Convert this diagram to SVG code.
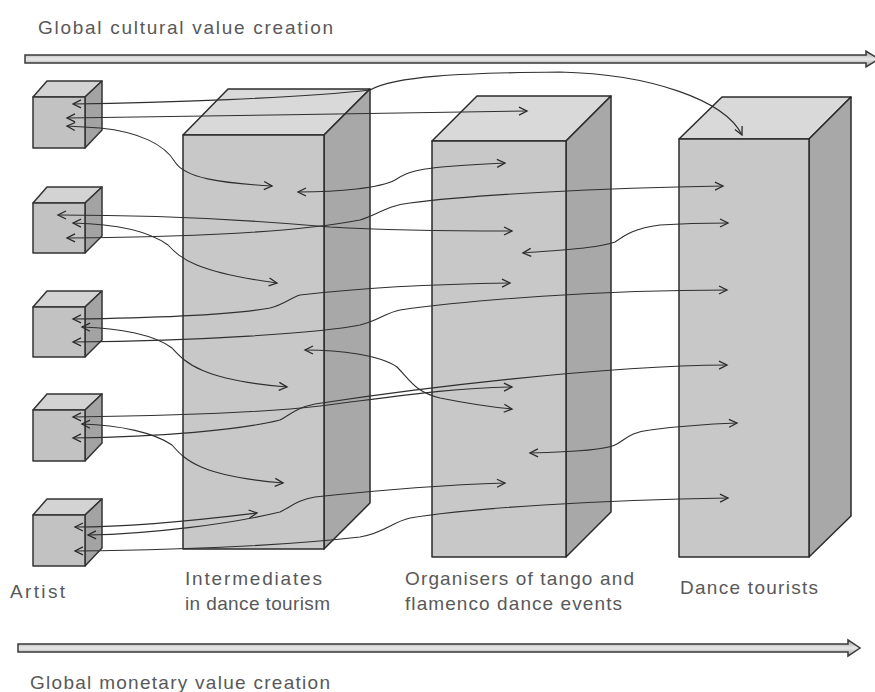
<svg xmlns="http://www.w3.org/2000/svg" width="875" height="692" viewBox="0 0 875 692">
<defs>
<marker id="ah" markerUnits="userSpaceOnUse" markerWidth="12" markerHeight="12" refX="8" refY="4" orient="auto-start-reverse" overflow="visible">
<path d="M0,0 L8,4 L0,8" fill="none" stroke="#2a2a2a" stroke-width="1.3"/>
</marker>
<linearGradient id="bar" x1="0" y1="0" x2="0" y2="1">
<stop offset="0" stop-color="#a0a0a0"/>
<stop offset="0.5" stop-color="#e8e8e8"/>
<stop offset="1" stop-color="#a0a0a0"/>
</linearGradient>
</defs>
<style>
.lbl{font-family:"Liberation Sans","DejaVu Sans",sans-serif;font-size:19px;fill:#595959;}
.ff{fill:#c8c8c8;stroke:#2b2b2b;stroke-width:1.5;stroke-linejoin:round;}
.tf{fill:#d9d9d9;stroke:#2b2b2b;stroke-width:1.5;stroke-linejoin:round;}
.sf{fill:#a8a8a8;stroke:#2b2b2b;stroke-width:1.5;stroke-linejoin:round;}
.cf{fill:#c2c2c2;stroke:#333;stroke-width:1.5;stroke-linejoin:round;}
.ct{fill:#d3d3d3;stroke:#333;stroke-width:1.5;stroke-linejoin:round;}
.cs{fill:#a3a3a3;stroke:#333;stroke-width:1.5;stroke-linejoin:round;}
.bigarrow{fill:url(#bar);stroke:#3a3a3a;stroke-width:1.5;stroke-linejoin:miter;}
.c{fill:none;stroke:#2f2f2f;stroke-width:1.1;marker-start:url(#ah);marker-end:url(#ah);}
</style>
<rect width="875" height="692" fill="#ffffff"/>

<g id="top-axis">
<path class="bigarrow" d="M25,55 L866,55 L866,51 L879,59 L866,67 L866,63 L25,63 Z"/>
<text class="lbl" x="38" y="34" textLength="295" lengthAdjust="spacing">Global cultural value creation</text>
</g>

<g id="bottom-axis">
<path class="bigarrow" d="M18,644 L848,644 L848,640 L860,648 L848,656 L848,652 L18,652 Z"/>
<text class="lbl" x="30" y="689" textLength="300" lengthAdjust="spacing">Global monetary value creation</text>
</g>

<g id="intermediates">
<polygon class="tf" points="183,135 228,89 370,89 324,135"/>
<polygon class="sf" points="324,135 370,89 370,503 324,549"/>
<rect class="ff" x="183" y="135" width="141" height="414"/>
<text class="lbl" x="185" y="585" textLength="137" lengthAdjust="spacing">Intermediates</text>
<text class="lbl" x="185" y="610" textLength="145" lengthAdjust="spacing">in dance tourism</text>
</g>

<g id="organisers">
<polygon class="tf" points="432,141 477,96 611,96 566,141"/>
<polygon class="sf" points="566,141 611,96 611,512 566,557"/>
<rect class="ff" x="432" y="141" width="134" height="416"/>
<text class="lbl" x="405" y="585" textLength="229" lengthAdjust="spacing">Organisers of tango and</text>
<text class="lbl" x="405" y="610" textLength="217" lengthAdjust="spacing">flamenco dance events</text>
</g>

<g id="dance-tourists">
<polygon class="tf" points="679,139 722,97 851,97 809,139"/>
<polygon class="sf" points="809,139 851,97 851,516 809,557"/>
<rect class="ff" x="679" y="139" width="130" height="418"/>
<text class="lbl" x="680" y="594" textLength="138" lengthAdjust="spacing">Dance tourists</text>
</g>

<g id="artist-1">
<polygon class="ct" points="33,97 47,81 102,81 85,97"/>
<polygon class="cs" points="85,97 102,81 102,130 85,148"/>
<rect class="cf" x="33" y="97" width="52" height="51"/>
</g>
<g id="artist-2">
<polygon class="ct" points="33,203 47,187 102,187 85,203"/>
<polygon class="cs" points="85,203 102,187 102,236 85,253"/>
<rect class="cf" x="33" y="203" width="52" height="50"/>
</g>
<g id="artist-3">
<polygon class="ct" points="33,307 47,291 102,291 85,307"/>
<polygon class="cs" points="85,307 102,291 102,340 85,357"/>
<rect class="cf" x="33" y="307" width="52" height="50"/>
</g>
<g id="artist-4">
<polygon class="ct" points="33,410 47,394 102,394 85,410"/>
<polygon class="cs" points="85,410 102,394 102,443 85,461"/>
<rect class="cf" x="33" y="410" width="52" height="51"/>
</g>
<g id="artist-5">
<polygon class="ct" points="33,515 47,499 102,499 85,515"/>
<polygon class="cs" points="85,515 102,499 102,548 85,566"/>
<rect class="cf" x="33" y="515" width="52" height="51"/>
<text class="lbl" x="10" y="598" textLength="55" lengthAdjust="spacing">Artist</text>
</g>

<g id="connectors">
<path class="c" d="M73,104 C160,103 300,98 370,90 C395,76 460,73 560,72 C650,74 725,100 742,135"/>
<path class="c" d="M67,118 C200,117 400,112 527,111"/>
<path class="c" d="M67,126 L100,128 C140,132 165,145 175,162 C185,178 220,183 272,186"/>
<path class="c" d="M298,192 C340,192 380,188 395,180 C410,170 420,167 505,163"/>
<path class="c" d="M58,215 C150,215 250,220 330,227 C400,231 460,231 512,231"/>
<path class="c" d="M73,223 C120,224 150,232 168,245 C180,258 195,272 277,283"/>
<path class="c" d="M67,238 C180,237 300,232 360,220 C380,214 385,206 410,203 C470,195 600,188 723,186"/>
<path class="c" d="M523,253 C560,250 600,248 615,242 C625,235 635,228 660,225 C690,223 710,223 728,223"/>
<path class="c" d="M73,319 C150,318 230,315 270,308 C285,304 290,298 300,295 C360,288 440,284 510,283"/>
<path class="c" d="M73,342 C200,341 320,333 360,325 C380,320 385,313 400,310 C470,300 600,290 727,290"/>
<path class="c" d="M82,327 C120,328 155,335 172,348 C185,362 200,380 287,387"/>
<path class="c" d="M305,350 C340,350 380,355 397,367 C410,380 415,392 440,398 C470,404 490,407 512,409"/>
<path class="c" d="M73,417 C150,416 260,413 320,406 C400,396 450,388 512,387"/>
<path class="c" d="M73,438 C160,437 240,430 280,420 C290,415 295,408 315,404 C420,388 600,366 727,365"/>
<path class="c" d="M82,424 C120,425 155,433 172,445 C185,460 200,476 283,483"/>
<path class="c" d="M530,453 C570,452 605,450 615,445 C625,440 630,432 650,430 C680,426 710,424 737,423"/>
<path class="c" d="M75,527 C130,527 200,520 257,513"/>
<path class="c" d="M88,535 C150,534 230,524 280,512 C292,506 298,500 315,497 C380,490 440,485 505,483"/>
<path class="c" d="M75,551 C180,550 290,545 360,537 C385,533 392,522 410,518 C470,508 600,500 728,498"/>
</g>
</svg>
